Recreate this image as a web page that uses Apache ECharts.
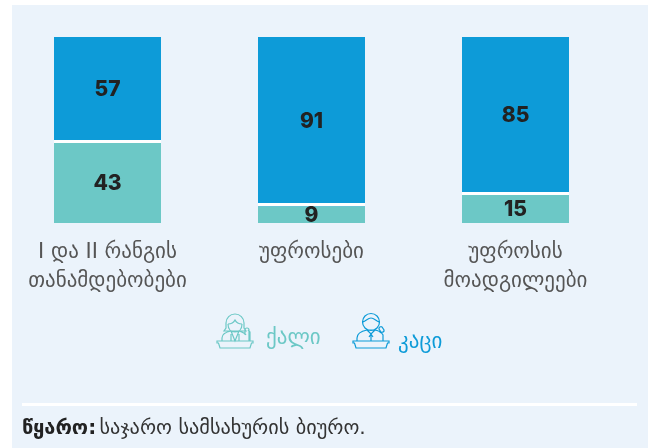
<!DOCTYPE html>
<html>
<head>
<meta charset="utf-8">
<style>
  html, body { margin: 0; padding: 0; background: #fff; }
  #chart { width: 651px; height: 448px; }
</style>
<script src="https://cdn.jsdelivr.net/npm/echarts@6/dist/echarts.min.js"></script>
</head>
<body>
<div id="chart"></div>
<script>
const categories = ['I და II რანგის\nთანამდებობები', 'უფროსები', 'უფროსის\nმოადგილეები']
const women = [43, 9, 15]
const men = [57, 91, 85]

const BLUE = '#0d9bd8'
const TEAL = '#6cc8c6'
const PANEL = '#ebf3fb'
const GEO = '"DejaVu Sans", "Noto Sans", sans-serif'

// ხაზოვანი ხატულები ლეგენდისთვის
const desk = 'M0 28h36v2h-1.5l-1.5 5h-30l-1.5-5h-1.5z'
const womanIcon = desk +
  'M9 10a9 9 0 0 1 18 0v5l2 3h-22l2-3z M11 11c3 0 6-2 7-4c1 2 4 4 7 4 M11 11c0 5 3 8 7 8s7-3 7-8' +
  'M5 28v-3c0-4 4-6 9-7l4 10l4-10c3 1 6 2 7 4 M14 21v7 M22 21v7' +
  'M28 22v-5a2 2 0 0 1 4 0v11 M31 17l2 2v9'
const manIcon = desk +
  'M9.5 9a8.5 8.5 0 1 1 17 0a8.5 8.5 0 1 1 -17 0z M10 9c3-1 5-4 8-4s5 3 8 4' +
  'M4 28v-3c0-5 5-7 10-8h8c3 .5 5 1.500 6 3 M14 17l4 4l4-4 M18 21v7 M16 24l2-3l2 3' +
  'M30 28v-6l-3-4 M26 16a2 2 0 0 1 3-2l2 3a2 2 0 0 1 -3 2z'

echarts.graphic.registerShape('womanIcon', echarts.graphic.extendPath(womanIcon, {}))
echarts.graphic.registerShape('manIcon', echarts.graphic.extendPath(manIcon, {}))

const chart = echarts.init(document.getElementById('chart'))

chart.setOption({
  animation: false,
  backgroundColor: '#fff',
  grid: { left: 5.5, width: 612, top: 37, height: 186 },
  xAxis: {
    type: 'category',
    data: categories,
    axisLine: { show: false },
    axisTick: { show: false },
    axisLabel: {
      interval: 0,
      margin: 15,
      color: '#555',
      fontFamily: GEO,
      fontSize: 21,
      lineHeight: 29,
    },
  },
  yAxis: { type: 'value', min: 0, max: 100, show: false },
  series: [
    {
      name: 'ქალი',
      type: 'bar',
      stack: 'total',
      barWidth: 107,
      data: women,
      itemStyle: { color: TEAL },
      label: {
        show: true,
        position: 'inside',
        offset: [0, 1],
        color: '#222',
        fontFamily: 'Inter, sans-serif',
        fontWeight: 800,
        fontSize: 21,
      },
    },
    {
      name: 'კაცი',
      type: 'bar',
      stack: 'total',
      barWidth: 107,
      data: men,
      itemStyle: { color: BLUE },
      label: {
        show: true,
        position: 'inside',
        color: '#222',
        fontFamily: 'Inter, sans-serif',
        fontWeight: 800,
        fontSize: 21,
      },
    },
    {
      // თეთრი გამყოფი ორ ნაწილს შორის
      type: 'custom',
      data: women,
      z: 5,
      silent: true,
      renderItem: (params, api) => {
        const p = api.coord([params.dataIndex, api.value(1)])
        return {
          type: 'rect',
          shape: { x: p[0] - 53.5, y: Math.round(p[1]) - 3, width: 107, height: 3 },
          style: { fill: '#fff' },
        }
      },
      encode: { x: 0, y: 1 },
    },
  ],
  graphic: [
    { type: 'rect', z: -10, shape: { x: 12, y: 5, width: 636, height: 443 }, style: { fill: PANEL } },
    { type: 'rect', shape: { x: 22, y: 403, width: 615, height: 3 }, style: { fill: '#fff' } },
    {
      type: 'womanIcon', x: 217, y: 313,
      style: { fill: 'none', stroke: TEAL, lineWidth: 1.2 },
    },
    {
      type: 'text', x: 266, y: 339,
      style: { text: 'ქალი', fill: TEAL, font: '21px ' + GEO, verticalAlign: 'middle' },
    },
    {
      type: 'manIcon', x: 353, y: 313,
      style: { fill: 'none', stroke: BLUE, lineWidth: 1.2 },
    },
    {
      type: 'text', x: 398, y: 343,
      style: { text: 'კაცი', fill: BLUE, font: '21px ' + GEO, verticalAlign: 'middle' },
    },
    {
      type: 'text', x: 22, y: 429,
      style: {
        text: '{b|წყარო:} {r|საჯარო სამსახურის ბიურო.}',
        verticalAlign: 'middle',
        rich: {
          b: { font: 'bold 20px ' + GEO, fill: '#222' },
          r: { font: '20.3px ' + GEO, fill: '#333' },
        },
      },
    },
  ],
})
</script>
</body>
</html>
